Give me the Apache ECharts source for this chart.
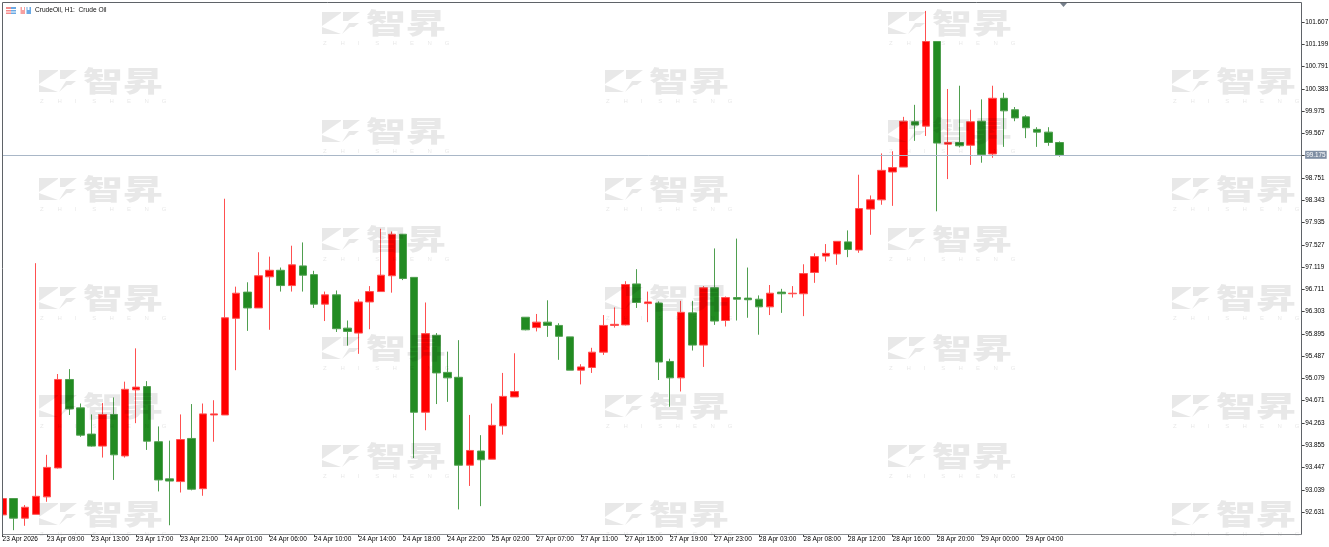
<!DOCTYPE html>
<html><head><meta charset="utf-8">
<style>html,body{margin:0;padding:0;background:#fff}#c{width:1329px;height:547px}</style>
<script src="https://cdn.jsdelivr.net/npm/echarts@6/dist/echarts.min.js"></script>
</head><body><div id="c"></div>
<script>
const chartTitle = 'CrudeOil, H1:  Crude Oil';
const currentPrice = 99.175;
const priceTicks = [101.607,101.199,100.791,100.383,99.975,99.567,99.175,98.751,98.343,97.935,97.527,97.119,96.711,96.303,95.895,95.487,95.079,94.671,94.263,93.855,93.447,93.039,92.631];
const timeLabels = ['23 Apr 2026','23 Apr 09:00','23 Apr 13:00','23 Apr 17:00','23 Apr 21:00','24 Apr 01:00','24 Apr 06:00','24 Apr 10:00','24 Apr 14:00','24 Apr 18:00','24 Apr 22:00','25 Apr 02:00','27 Apr 07:00','27 Apr 11:00','27 Apr 15:00','27 Apr 19:00','27 Apr 23:00','28 Apr 03:00','28 Apr 08:00','28 Apr 12:00','28 Apr 16:00','28 Apr 20:00','29 Apr 00:00','29 Apr 04:00'];
const opens = [92.58,92.88,92.52,92.59,92.91,93.44,95.06,94.54,94.06,93.84,94.42,93.66,94.87,94.93,93.92,93.24,93.19,93.98,93.06,94.41,94.41,96.18,96.66,96.37,96.94,97.06,96.78,97.14,96.98,96.44,96.61,96.00,95.91,96.48,96.67,96.96,97.72,96.93,94.46,95.87,95.19,95.10,93.49,93.75,93.60,94.21,94.74,96.20,96.01,96.11,96.05,95.84,95.23,95.28,95.56,96.05,96.06,96.81,96.45,96.46,95.39,95.09,96.28,95.69,96.74,96.14,96.56,96.55,96.53,96.39,96.66,96.63,96.63,97.02,97.32,97.36,97.58,97.43,98.18,98.35,98.86,98.95,99.78,99.70,101.25,99.37,99.40,99.35,99.79,99.19,100.21,100.00,99.87,99.64,99.59,99.40];
const closes = [92.88,92.52,92.72,92.92,93.45,95.06,94.52,94.04,93.84,94.42,93.68,94.88,94.92,93.93,93.22,93.20,93.96,93.05,94.43,94.43,96.19,96.64,96.37,96.96,97.06,96.78,97.16,96.97,96.44,96.61,95.99,95.94,96.48,96.67,96.97,97.72,96.91,94.46,95.90,95.18,95.09,93.49,93.76,93.59,94.22,94.75,94.84,95.97,96.11,96.05,95.85,95.23,95.29,95.56,96.05,96.07,96.80,96.47,96.48,95.38,95.09,96.29,95.69,96.74,96.13,96.56,96.53,96.52,96.39,96.64,96.63,96.64,97.00,97.31,97.37,97.59,97.44,98.19,98.35,98.89,98.94,99.79,99.72,101.25,99.39,99.40,99.34,99.78,99.18,100.21,99.98,99.85,99.67,99.59,99.40,99.17];
const lows = [92.58,92.30,92.38,92.59,92.82,93.43,94.41,94.01,93.83,93.63,93.22,93.63,94.26,93.77,93.01,92.39,92.99,93.03,92.93,93.92,94.41,95.23,95.95,96.37,95.97,96.67,96.67,96.67,96.37,96.13,95.93,95.68,95.53,95.98,96.67,96.65,96.88,93.62,94.13,94.61,94.65,92.68,93.11,92.74,93.60,94.05,94.74,95.96,95.94,95.84,95.42,95.23,94.97,95.18,95.51,96.01,96.05,96.37,96.11,95.05,94.56,94.84,95.59,95.29,96.06,96.03,96.14,96.19,95.88,96.24,96.28,96.56,96.22,96.83,97.22,97.16,97.30,97.38,97.71,98.26,98.24,98.95,99.43,99.52,98.14,98.73,99.31,98.99,99.03,99.12,99.32,99.79,99.48,99.32,99.34,99.14];
const highs = [92.88,92.88,92.76,97.19,93.68,95.16,95.25,94.62,94.42,94.63,94.73,95.02,95.63,95.03,94.20,93.94,94.42,94.61,94.62,94.68,98.37,96.76,96.84,97.39,97.31,97.11,97.51,97.57,97.05,96.67,96.69,96.14,96.53,96.77,97.82,97.77,97.72,96.93,96.47,95.91,95.57,95.78,94.41,94.04,94.62,95.18,95.54,96.20,96.26,96.51,96.09,95.84,95.34,95.64,96.24,96.38,96.86,97.08,96.67,96.49,95.44,96.50,96.50,96.77,97.46,96.58,97.64,97.11,96.60,96.79,96.72,96.77,97.17,97.37,97.54,97.59,97.79,98.81,98.43,99.20,99.24,99.87,100.09,101.81,101.25,100.38,100.44,100.00,100.19,100.44,100.31,100.05,99.90,99.68,99.68,99.42];
const emptySlots = 21;

const categories = [];
for (let i = 0; i < opens.length + emptySlots; i++) {
  categories.push(i % 4 === 0 && timeLabels[i / 4] ? timeLabels[i / 4] : '');
}
const candleData = opens.map((o, i) => [o, closes[i], lows[i], highs[i]]);

const WM = 'rgba(0,0,0,0.09)';
const wmLetters = 'ZHISHENG'.split('');
function watermark(x0, y0) {
  const poly = pts => ({type:'polygon', silent:true, z:60, shape:{points:pts.map(p=>[p[0]+x0,p[1]+y0])}, style:{fill:WM}});
  const items = [
    poly([[0,0],[19,0],[19,1],[0,14]]),
    poly([[0,15],[19,22],[0,22]]),
    poly([[21,0],[38,0],[26,9],[21,9]]),
    poly([[20,22],[27,11],[37,11],[32,15],[28,15]]),
    {type:'text', silent:true, z:60, x:x0+44, y:y0-3, scaleY:0.72,
     style:{text:'智昇', font:'900 40px "Noto Sans CJK SC"', fill:WM, textVerticalAlign:'top'}}
  ];
  wmLetters.forEach((c, i) => items.push({type:'text', silent:true, z:60, x:x0+1+i*17.4, y:y0+28,
    style:{text:c, font:'6px "Liberation Sans"', fill:'rgba(0,0,0,0.1)', textVerticalAlign:'top'}}));
  return items;
}
const wmCols = [39, 322, 605, 888, 1172];
const wmRowsA = [70, 178, 287, 395, 503];
const wmRowsB = [12, 120, 228, 337, 445];
let graphics = [];
wmCols.forEach((x, ci) => (ci % 2 ? wmRowsB : wmRowsA).forEach(y => { graphics = graphics.concat(watermark(x, y)); }));

const frame = '#5f6368';
graphics.push(
  {type:'rect', silent:true, z:70, shape:{x:0,y:0,width:2,height:547}, style:{fill:'#fff'}},
  {type:'rect', silent:true, z:70, shape:{x:1302,y:0,width:27,height:3}, style:{fill:'#fff'}},
  {type:'line', silent:true, z:71, shape:{x1:2.5,y1:2.5,x2:1301.5,y2:2.5}, style:{stroke:frame,lineWidth:1}},
  {type:'line', silent:true, z:71, shape:{x1:2.5,y1:534.5,x2:1301.5,y2:534.5}, style:{stroke:'#8a8d91',lineWidth:1}},
  {type:'line', silent:true, z:71, shape:{x1:2.5,y1:2.5,x2:2.5,y2:534.5}, style:{stroke:frame,lineWidth:1}},
  {type:'line', silent:true, z:71, shape:{x1:1301.5,y1:2.5,x2:1301.5,y2:534.5}, style:{stroke:frame,lineWidth:1}},
  {type:'polygon', silent:true, z:72, shape:{points:[[1060,3],[1067,3],[1063.5,7]]}, style:{fill:'#77808c'}},
  {type:'rect', silent:true, z:72, shape:{x:6,y:7,width:5,height:7}, style:{fill:'#f58b8b'}},
  {type:'rect', silent:true, z:72, shape:{x:11,y:7,width:5,height:7}, style:{fill:'#6aa9e4'}},
  {type:'rect', silent:true, z:73, shape:{x:6,y:9,width:10,height:1}, style:{fill:'#fff'}},
  {type:'rect', silent:true, z:73, shape:{x:6,y:11.5,width:10,height:1}, style:{fill:'#fff'}},
  {type:'rect', silent:true, z:72, shape:{x:20.5,y:7,width:4.5,height:7}, style:{fill:'#f7a0a0'}},
  {type:'rect', silent:true, z:72, shape:{x:26.5,y:7,width:4.5,height:7}, style:{fill:'#6aa9e4'}},
  {type:'rect', silent:true, z:73, shape:{x:22,y:7,width:2,height:3}, style:{fill:'#fff'}},
  {type:'rect', silent:true, z:73, shape:{x:27.5,y:7,width:2,height:3}, style:{fill:'#fff'}},
  {type:'text', silent:true, z:72, x:35, y:7, style:{text:chartTitle, font:'6.6px "Liberation Sans"', fill:'#111', textVerticalAlign:'top'}}
);

const chart = echarts.init(document.getElementById('c'), null, {renderer:'canvas'});
chart.setOption({
  animation:false,
  backgroundColor:'#fff',
  grid:{left:-3, top:3, width:1301.625, height:531, containLabel:false, outerBoundsMode:'none'},
  xAxis:{
    type:'category', data:categories, boundaryGap:true,
    axisLine:{show:false},
    axisTick:{show:true, interval:(i,v)=>v!=='', alignWithLabel:true, length:3, lineStyle:{color:'#444'}},
    axisLabel:{show:true, interval:3, align:'left', margin:2, fontSize:6.5, fontFamily:'Liberation Sans', color:'#000', hideOverlap:false},
    splitLine:{show:false}
  },
  yAxis:{
    type:'value', position:'right', offset:3, scale:true,
    min:92.23, max:101.955,
    axisLine:{show:false},
    axisTick:{show:true, length:3, customValues:priceTicks, lineStyle:{color:'#444'}},
    axisLabel:{show:true, customValues:priceTicks, margin:3.5, fontSize:6.4, fontFamily:'Liberation Sans', color:'#000',
      formatter:v => Math.abs(v-currentPrice)<1e-6 ? '{cur|'+v.toFixed(3)+'}' : v.toFixed(3),
      rich:{cur:{backgroundColor:'#7f8ea3', color:'#fff', fontSize:6.4, fontFamily:'Liberation Sans', padding:[1,1,1,1]}}},
    splitLine:{show:false}
  },
  series:[{
    type:'candlestick', data:candleData, barWidth:8, clip:true,
    itemStyle:{color:'#ff0000', color0:'#228b22', borderColor:'#ff5050', borderColor0:'#4f9f4f', borderWidth:1},
    markLine:{silent:true, symbol:'none', animation:false, label:{show:false},
      lineStyle:{color:'#a9b7c7', width:1, type:'solid'}, data:[{yAxis:currentPrice}]}
  }],
  graphic:{elements:graphics}
});
const py = Math.round(chart.convertToPixel({yAxisIndex:0}, currentPrice)) + 0.5;
graphics.push({type:'line', silent:true, z:69, shape:{x1:1298,y1:py,x2:1301,y2:py}, style:{stroke:'#a9b7c7',lineWidth:1}});
chart.setOption({graphic:{elements:graphics}});
</script></body></html>
